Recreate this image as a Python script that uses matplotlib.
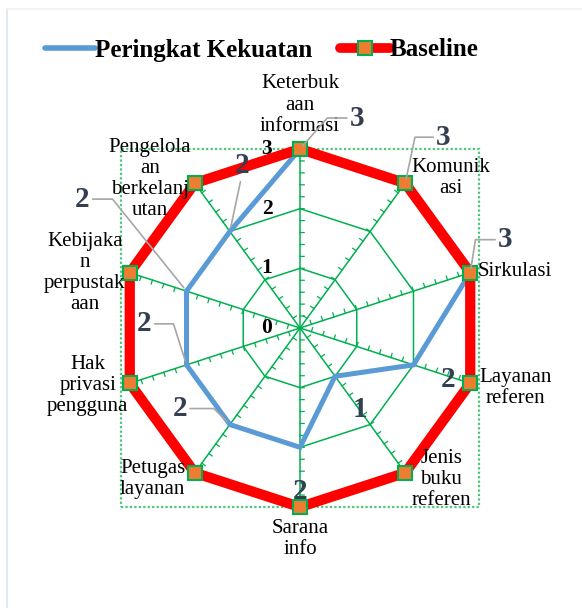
import numpy as np
import matplotlib

matplotlib.use("Agg")
import matplotlib.pyplot as plt
from matplotlib.lines import Line2D
from matplotlib.patches import Rectangle

plt.rcParams["font.family"] = ["Liberation Serif", "DejaVu Serif"]

# --- data ---
categories = [
    "Keterbuk\naan\ninformasi", "Komunik\nasi", "Sirkulasi", "Layanan\nreferen",
    "Jenis\nbuku\nreferen", "Sarana\ninfo", "Petugas\nlayanan", "Hak\nprivasi\npengguna",
    "Kebijaka\nn\nperpustak\naan", "Pengelola\nan\nberkelanj\nutan",
]
peringkat = [3, 3, 3, 2, 1, 2, 2, 2, 2, 2]
baseline = [3, 3, 3, 3, 3, 3, 3, 3, 3, 3]
r_ticks = [0, 1, 2, 3]
series_names = ["Peringkat Kekuatan", "Baseline"]

# --- layout (pixel offsets from the anchor point) ---
cat_offsets = [(0, 44), (46, 5), (45, 1), (45, -5), (36, -7),
               (0, -32), (-42, -6), (-42, -2), (-45, 0), (-45, 4)]
lbl_offsets = [(57, 31), (38, 46), (35, 33), (35, -15), (25, -33),
               (0, -44), (-50, 16), (-42, 41), (-104, 92), (12, 66)]
# (angleA, angleB) for leader lines, None = no leader
leaders = [(0, 48.6), (0, 78), (0, 81), None, None,
           None, (0, 135), (0, 107.6), (0, 128.8), (90, 78)]
tick_side = [-1, 1, 1, 1, 1, 1, 1, 1, 1, -1]  # 1 = ccw side, -1 = cw side

BLUE = "#5B9BD5"
RED = "#FF0000"
ORANGE = "#ED7D31"
GREEN = "#00B050"
LABEL = "#333F50"

n = len(categories)
theta = np.linspace(0, 2 * np.pi, n, endpoint=False)
rmax = max(r_ticks)

fig = plt.figure(figsize=(5.82, 6.08), dpi=100)
ax = fig.add_axes([121 / 582, 101 / 608, 358 / 582, 358 / 608], projection="polar")
ax.set_theta_zero_location("N")
ax.set_theta_direction(-1)
ax.set_ylim(0, rmax)
ax.grid(False)
ax.spines["polar"].set_visible(False)
ax.set_xticks([])
ax.set_yticks([])
ax.patch.set_alpha(0)

# dotted plot-area frame
ax.add_patch(Rectangle((0, 0), 1, 1, transform=ax.transAxes, fill=False,
                       ls=(0, (1, 1)), ec="#4CC779", lw=1.6, clip_on=False))

# decagon rings and spokes
closed = np.append(theta, theta[0])
for r in r_ticks[1:]:
    ax.plot(closed, [r] * (n + 1), color=GREEN, lw=1.1, zorder=1, clip_on=False)
for t in theta:
    ax.plot([t, t], [0, rmax], color=GREEN, lw=1.1, zorder=1, clip_on=False)

# minor tick marks along every spoke
tick_len = 0.07
tt, rr = [], []
for t, side in zip(theta, tick_side):
    px, py = -np.cos(t) * side, np.sin(t) * side
    for r in np.arange(0.2, rmax, 0.2):
        x0, y0 = r * np.sin(t), r * np.cos(t)
        x1, y1 = x0 + tick_len * px, y0 + tick_len * py
        tt += [t, np.arctan2(x1, y1), np.nan]
        rr += [r, np.hypot(x1, y1), np.nan]
ax.plot(tt, rr, color=GREEN, lw=0.9, zorder=1, clip_on=False)

# series
ax.plot(closed, np.append(peringkat, peringkat[0]), color=BLUE, lw=3.6, zorder=3,
        solid_joinstyle="miter", clip_on=False)
ax.plot(closed, np.append(baseline, baseline[0]), color=RED, lw=7.4, zorder=4,
        marker="s", ms=10, mfc=ORANGE, mec=GREEN, mew=1.5, clip_on=False)

# radial axis labels
for r in r_ticks:
    ax.annotate(str(r), xy=(0, r), xytext=(-33, 0), textcoords="offset pixels",
                ha="center", va="center", fontsize=15.5, fontweight="bold",
                color="black", zorder=5, annotation_clip=False)

# category labels
for t, name, off in zip(theta, categories, cat_offsets):
    ax.annotate(name, xy=(t, rmax), xytext=off, textcoords="offset pixels",
                ha="center", va="center", multialignment="center", fontsize=15,
                color="black", linespacing=1.15, zorder=6, annotation_clip=False)

# data labels
for t, v, off, ld in zip(theta, peringkat, lbl_offsets, leaders):
    props = None
    if ld is not None:
        props = dict(arrowstyle="-", color="#A6A6A6", lw=1.2, shrinkA=0, shrinkB=3,
                     connectionstyle=f"angle,angleA={ld[0]},angleB={ld[1]},rad=0")
    ax.annotate(str(v), xy=(t, v), xytext=off, textcoords="offset pixels",
                ha="center", va="center", fontsize=21, fontweight="bold",
                color=LABEL, arrowprops=props, zorder=7, annotation_clip=False)

# legend
h1 = Line2D([], [], color=BLUE, lw=4, solid_capstyle="round")
h2 = Line2D([], [], color=RED, lw=7, solid_capstyle="round", marker="s", ms=10,
            mfc=ORANGE, mec=GREEN, mew=1.5)
fig.legend([h1, h2], series_names, loc="center", bbox_to_anchor=(262 / 582, 1 - 50 / 608),
           ncol=2, frameon=False, handlelength=2.0, handletextpad=0.0, columnspacing=1.1,
           prop=dict(family="Liberation Serif", weight="bold", size=18))

# faint chart-area border
fig.add_artist(Line2D([7 / 582, 7 / 582], [0, 1 - 9 / 608], transform=fig.transFigure,
                      color="#DCE5F1", lw=1.2))
fig.add_artist(Line2D([7 / 582, 1], [1 - 9 / 608, 1 - 9 / 608], transform=fig.transFigure,
                      color="#EEF2F8", lw=1.2))

fig.savefig("out.png", dpi=100)
